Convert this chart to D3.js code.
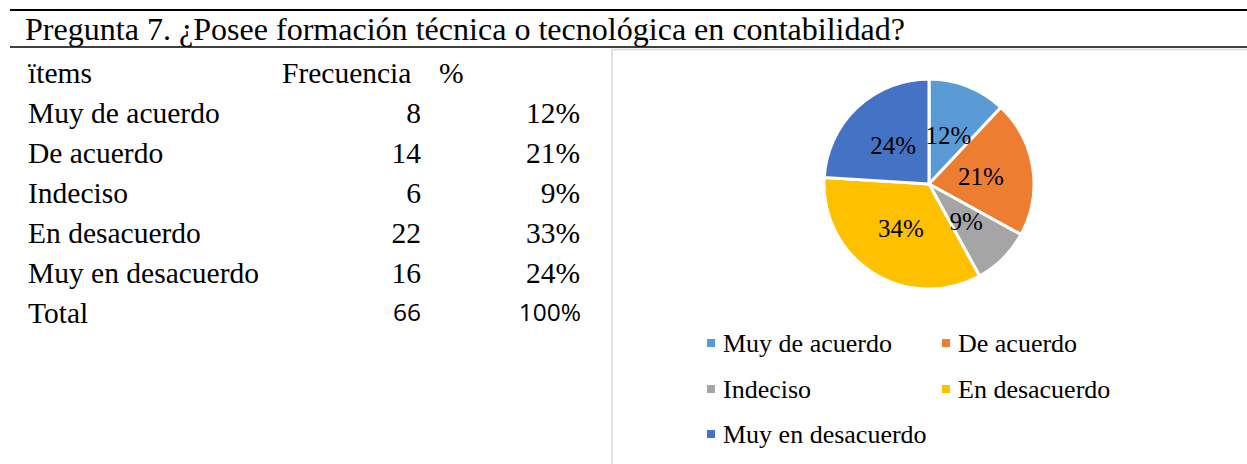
<!DOCTYPE html>
<html>
<head>
<meta charset="utf-8">
<script src="https://cdn.jsdelivr.net/npm/d3@7"></script>
<style>
  body { margin: 0; background: #fff; }
  text { font-family: "Liberation Serif", "Times New Roman", serif; fill: #000; }
</style>
</head>
<body>
<div id="chart"></div>
<script>
// data
var title = "Pregunta 7. ¿Posee formación técnica o tecnológica en contabilidad?";
var headers = ["ïtems", "Frecuencia", "%"];
var items = ["Muy de acuerdo", "De acuerdo", "Indeciso", "En desacuerdo", "Muy en desacuerdo"];
var frecuencia = [8, 14, 6, 22, 16];
var porcentaje = ["12%", "21%", "9%", "33%", "24%"];
var totalRow = ["Total", "66", "100%"];
// percentages as shown on the pie
var pieValues = [12, 21, 9, 34, 24];
var colors = ["#5b9bd5", "#ed7d31", "#a5a5a5", "#ffc000", "#4472c4"];

var width = 1247, height = 464;

var svg = d3.select("#chart")
  .append("svg")
    .attr("width", width)
    .attr("height", height);

// title rules
svg.append("line")
    .attr("x1", 10).attr("x2", 1247)
    .attr("y1", 10).attr("y2", 10)
    .attr("stroke", "#000").attr("stroke-width", 2);
svg.append("line")
    .attr("x1", 10).attr("x2", 1247)
    .attr("y1", 47).attr("y2", 47)
    .attr("stroke", "#000").attr("stroke-width", 1.5);

svg.append("text")
    .attr("x", 25).attr("y", 40)
    .style("font-size", "31px")
    .attr("textLength", 880)
    .attr("lengthAdjust", "spacingAndGlyphs")
    .text(title);

// chart area frame
svg.append("path")
    .attr("d", "M612,465 V49.5 H1247")
    .attr("fill", "none")
    .attr("stroke", "#d9d9d9")
    .attr("stroke-width", 1.5);

// table
var rowY = d3.scalePoint()
    .domain(d3.range(items.length + 2))
    .range([83, 323]);

var table = svg.append("g").style("font-size", "29.5px");

table.append("text").attr("x", 28).attr("y", rowY(0)).text(headers[0]);
table.append("text").attr("x", 282).attr("y", rowY(0)).text(headers[1]);
table.append("text").attr("x", 439).attr("y", rowY(0)).text(headers[2]);

var rows = table.selectAll(".row")
  .data(items)
  .enter().append("g")
    .attr("class", "row")
    .attr("transform", function(d, i) { return "translate(0," + rowY(i + 1) + ")"; });

rows.append("text").attr("x", 28).text(function(d) { return d; });
rows.append("text").attr("x", 421).attr("text-anchor", "end")
    .text(function(d, i) { return frecuencia[i]; });
rows.append("text").attr("x", 580).attr("text-anchor", "end")
    .text(function(d, i) { return porcentaje[i]; });

var tot = table.append("g")
    .attr("transform", "translate(0," + rowY(items.length + 1) + ")");
tot.append("text").attr("x", 28).text(totalRow[0]);
tot.append("text").attr("x", 421).attr("y", -2).attr("text-anchor", "end")
    .style("font-family", "'Open Sans', 'Liberation Sans', sans-serif")
    .style("font-size", "24.5px")
    .text(totalRow[1]);
tot.append("text").attr("x", 581).attr("y", -2).attr("text-anchor", "end")
    .style("font-family", "'Open Sans', 'Liberation Sans', sans-serif")
    .style("font-size", "24.5px")
    .text(totalRow[2]);

// pie
var cx = 929, cy = 184, r = 105;
var pie = d3.pie().sort(null).value(function(d) { return d; });
var arc = d3.arc().innerRadius(0).outerRadius(r);
var labelArc = d3.arc().innerRadius(r * 0.5).outerRadius(r * 0.5);

var g = svg.append("g").attr("transform", "translate(" + cx + "," + cy + ")");

var arcs = pie(pieValues);

g.selectAll("path")
  .data(arcs)
  .enter().append("path")
    .attr("d", arc)
    .attr("fill", function(d, i) { return colors[i]; })
    .attr("stroke", "#fff")
    .attr("stroke-width", 3);

g.selectAll(".lbl")
  .data(arcs)
  .enter().append("text")
    .attr("class", "lbl")
    .attr("transform", function(d) { return "translate(" + labelArc.centroid(d) + ")"; })
    .attr("text-anchor", "middle")
    .attr("dy", "0.35em")
    .style("font-size", "25px")
    .text(function(d) { return d.data + "%"; });

// legend
var legend = svg.append("g").style("font-size", "26px");
var legX = [707, 942];
var legY = [343, 389, 434];

var li = legend.selectAll(".leg")
  .data(items)
  .enter().append("g")
    .attr("class", "leg")
    .attr("transform", function(d, i) {
      return "translate(" + legX[i % 2] + "," + legY[Math.floor(i / 2)] + ")";
    });

li.append("rect")
    .attr("x", 0).attr("y", -4)
    .attr("width", 8).attr("height", 8)
    .attr("fill", function(d, i) { return colors[i]; });

li.append("text")
    .attr("x", 16).attr("dy", "0.35em")
    .text(function(d) { return d; });
</script>
</body>
</html>
